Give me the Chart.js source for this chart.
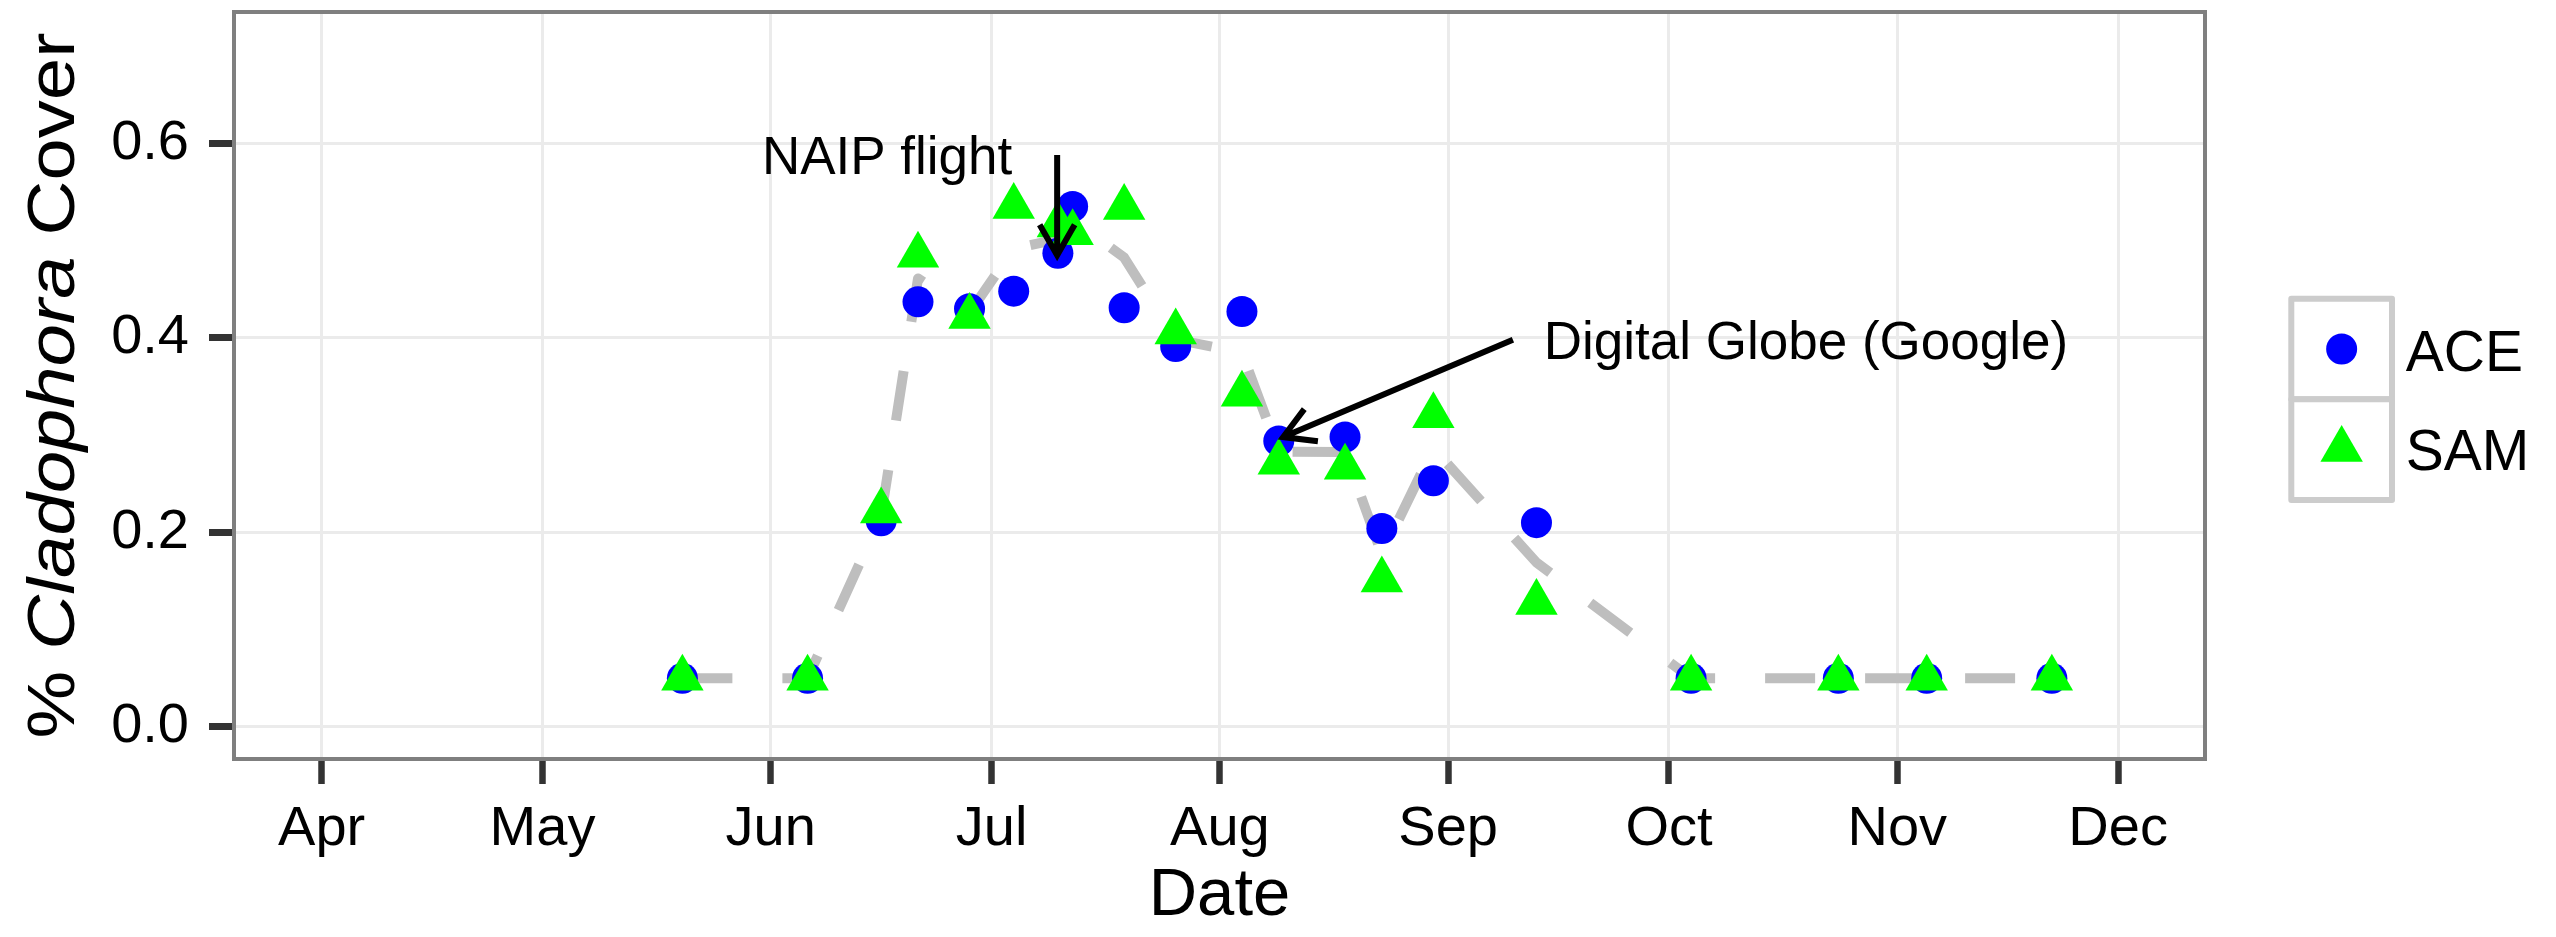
<!DOCTYPE html>
<html>
<head>
<meta charset="utf-8">
<script src="https://cdn.jsdelivr.net/npm/chart.js@4.4.1/dist/chart.umd.min.js"></script>
<style>
  html, body { margin: 0; padding: 0; background: #ffffff; }
  #wrap { width: 2556px; height: 937px; position: relative; }
</style>
</head>
<body>
<div id="wrap"><canvas id="c" width="2556" height="937"></canvas></div>
<script>
// ---------------- data ----------------
const sampleDates = ['2013-05-20','2013-06-06','2013-06-16','2013-06-21','2013-06-28','2013-07-04',
  '2013-07-10','2013-07-12','2013-07-19','2013-07-26','2013-08-04','2013-08-09','2013-08-18',
  '2013-08-23','2013-08-30','2013-09-13','2013-10-04','2013-10-24','2013-11-05','2013-11-22'];
const aceCover  = [0.05, 0.05, 0.212, 0.437, 0.430, 0.448, 0.487, 0.535, 0.431, 0.391, 0.427,
  0.294, 0.298, 0.204, 0.253, 0.210, 0.05, 0.05, 0.05, 0.05];
const samCover  = [0.05, 0.05, 0.222, 0.485, 0.422, 0.535, 0.516, 0.508, 0.534, 0.406, 0.342,
  0.272, 0.267, 0.151, 0.320, 0.128, 0.05, 0.05, 0.05, 0.05];
const meanCover = [0.05, 0.05, 0.217, 0.461, 0.426, 0.4915, 0.5015, 0.5215, 0.4825, 0.3985, 0.3845,
  0.283, 0.2825, 0.1775, 0.2865, 0.169, 0.05, 0.05, 0.05, 0.05];
const seriesNames = ['ACE', 'SAM'];

const monthTickDates  = ['2013-04-01','2013-05-01','2013-06-01','2013-07-01','2013-08-01',
  '2013-09-01','2013-10-01','2013-11-01','2013-12-01'];
const monthTickLabels = ['Apr','May','Jun','Jul','Aug','Sep','Oct','Nov','Dec'];
const yTickValues = [0.0, 0.2, 0.4, 0.6];

const xTitle = 'Date';
const yTitleParts = [['% ', false], ['Cladophora', true], [' Cover', false]];

const annotationLabels = ['NAIP flight', 'Digital Globe (Google)'];
const annotationLabelAt = [[167.8, 0.588], [292.6, 0.3976]];   // [day of year, cover]
const annotationArrowFrom = [[190.9, 0.588], [252.8, 0.398]];
const annotationArrowTo   = [[190.9, 0.485], [221.6, 0.298]];

// ---------------- helpers ----------------
function dayOfYear(s) {
  const [yy, mm, dd] = s.split('-').map(Number);
  return (Date.UTC(yy, mm - 1, dd) - Date.UTC(yy, 0, 0)) / 86400000;
}
const xs = sampleDates.map(dayOfYear);
const monthTickDays = monthTickDates.map(dayOfYear);
const toPts = arr => arr.map((v, i) => ({ x: xs[i], y: v }));

const FONT = 'Liberation Sans, Arial, Helvetica, sans-serif';
const FONTQ = '"Liberation Sans", Arial, Helvetica, sans-serif';
const BLUE = '#0000FF', GREEN = '#00FF00';

// ---------------- plugin ----------------
function arrow(ctx, x0, y0, x1, y1) {
  const ang = Math.atan2(y0 - y1, x0 - x1);
  const L = 35, a = Math.PI / 6;
  ctx.beginPath();
  ctx.moveTo(x0, y0); ctx.lineTo(x1, y1);
  ctx.moveTo(x1 + L * Math.cos(ang + a), y1 + L * Math.sin(ang + a));
  ctx.lineTo(x1, y1);
  ctx.lineTo(x1 + L * Math.cos(ang - a), y1 + L * Math.sin(ang - a));
  ctx.stroke();
}

const deco = {
  id: 'deco',
  afterDatasetsDraw(chart) {
    const { ctx, scales: { x, y } } = chart;
    ctx.save();
    ctx.fillStyle = '#000';
    ctx.font = '53px ' + FONTQ;
    ctx.textAlign = 'center';
    ctx.textBaseline = 'alphabetic';
    annotationLabels.forEach((t, i) => {
      const px = x.getPixelForValue(annotationLabelAt[i][0]);
      const py = y.getPixelForValue(annotationLabelAt[i][1]);
      ctx.fillText(t, px, py + 0.716 * 53 / 2);
    });
    ctx.strokeStyle = '#000';
    ctx.lineWidth = 6;
    ctx.lineCap = 'butt';
    ctx.lineJoin = 'miter';
    annotationArrowFrom.forEach((f, i) => {
      const t = annotationArrowTo[i];
      arrow(ctx, x.getPixelForValue(f[0]), y.getPixelForValue(f[1]),
                 x.getPixelForValue(t[0]), y.getPixelForValue(t[1]));
    });
    ctx.restore();
  },
  afterDraw(chart) {
    const { ctx, chartArea: ca } = chart;
    ctx.save();
    // panel border
    ctx.strokeStyle = '#7F7F7F';
    ctx.lineWidth = 4;
    ctx.strokeRect(ca.left, ca.top, ca.right - ca.left, ca.bottom - ca.top);

    // x title
    ctx.fillStyle = '#000';
    ctx.font = '67px ' + FONTQ;
    ctx.textAlign = 'center';
    ctx.textBaseline = 'alphabetic';
    ctx.fillText(xTitle, (ca.left + ca.right) / 2, 915);

    // y title (mixed italic)
    ctx.save();
    ctx.translate(74, (ca.top + ca.bottom) / 2);
    ctx.rotate(-Math.PI / 2);
    let total = 0;
    const widths = yTitleParts.map(([s, it]) => {
      ctx.font = (it ? 'italic ' : '') + '67px ' + FONTQ;
      const w = ctx.measureText(s).width; total += w; return w;
    });
    ctx.scale(706 / total, 1);
    let cx = -total / 2;
    ctx.textAlign = 'left';
    yTitleParts.forEach(([s, it], i) => {
      ctx.font = (it ? 'italic ' : '') + '67px ' + FONTQ;
      ctx.fillText(s, cx, 0);
      cx += widths[i];
    });
    ctx.restore();

    // legend
    const kx = 2291.3, kw = 100.7, ky = [298.7, 399.3], kh = 100.6;
    ctx.fillStyle = '#FFFFFF';
    ctx.strokeStyle = '#CCCCCC';
    ctx.lineWidth = 6;
    ctx.lineJoin = 'round';
    ky.forEach(t => { ctx.fillRect(kx, t, kw, kh); ctx.strokeRect(kx, t, kw, kh); });
    const mx = kx + kw / 2;
    ctx.fillStyle = BLUE;
    ctx.beginPath(); ctx.arc(mx, ky[0] + kh / 2, 15.5, 0, Math.PI * 2); ctx.fill();
    ctx.fillStyle = GREEN;
    const cyT = ky[1] + kh / 2, R = 24.5;
    ctx.beginPath();
    for (let k = 0; k < 3; k++) {
      const r = k * 2 * Math.PI / 3;
      const px = mx + Math.sin(r) * R, py = cyT - Math.cos(r) * R;
      k === 0 ? ctx.moveTo(px, py) : ctx.lineTo(px, py);
    }
    ctx.closePath(); ctx.fill();
    ctx.fillStyle = '#000';
    ctx.font = '57px ' + FONTQ;
    ctx.textAlign = 'left';
    ctx.fillText(seriesNames[0], 2405.7, 370.7);
    ctx.fillText(seriesNames[1], 2405.7, 470);
    ctx.restore();
  }
};

// ---------------- chart ----------------
new Chart(document.getElementById('c'), {
  type: 'scatter',
  data: {
    datasets: [
      { type: 'scatter', label: seriesNames[1], data: toPts(samCover), order: 1,
        pointStyle: 'triangle', pointRadius: 24.5, pointHoverRadius: 24.5,
        backgroundColor: GREEN, borderColor: GREEN, borderWidth: 0, pointBorderWidth: 0 },
      { type: 'scatter', label: seriesNames[0], data: toPts(aceCover), order: 2,
        pointStyle: 'circle', pointRadius: 15.5, pointHoverRadius: 15.5,
        backgroundColor: BLUE, borderColor: BLUE, borderWidth: 0, pointBorderWidth: 0 },
      { type: 'line', label: 'mean', data: toPts(meanCover), order: 3,
        showLine: true, pointRadius: 0, borderColor: '#BEBEBE', borderWidth: 10,
        borderDash: [50, 50], borderCapStyle: 'butt', borderJoinStyle: 'round',
        tension: 0, fill: false }
    ]
  },
  options: {
    responsive: false,
    maintainAspectRatio: false,
    animation: false,
    devicePixelRatio: 1,
    events: [],
    layout: { autoPadding: false, padding: { top: 12, right: 351, left: 0, bottom: 0 } },
    plugins: { legend: { display: false }, tooltip: { enabled: false } },
    scales: {
      x: {
        type: 'linear', min: 79.1, max: 346.8,
        afterBuildTicks: s => { s.ticks = monthTickDays.map(v => ({ value: v })); },
        afterFit: s => { s.height = 178; s.paddingLeft = 0; s.paddingRight = 0; s.paddingTop = 0; s.paddingBottom = 0; },
        ticks: {
          callback: (v, i) => monthTickLabels[i],
          font: { family: FONT, size: 56 }, color: '#000', padding: 12, maxRotation: 0, autoSkip: false
        },
        grid: { color: '#EBEBEB', lineWidth: 3, tickLength: 25, tickWidth: 6.5, tickColor: '#333333', drawOnChartArea: true },
        border: { display: false }
      },
      y: {
        type: 'linear', min: -0.033, max: 0.735,
        afterBuildTicks: s => { s.ticks = yTickValues.map(v => ({ value: v })); },
        afterFit: s => { s.width = 234; s.paddingTop = 0; s.paddingBottom = 0; s.paddingLeft = 0; s.paddingRight = 0; },
        ticks: {
          callback: v => Number(v).toFixed(1),
          font: { family: FONT, size: 56 }, color: '#000', padding: 20, autoSkip: false
        },
        grid: { color: '#EBEBEB', lineWidth: 3, tickLength: 25, tickWidth: 7, tickColor: '#333333' },
        border: { display: false }
      }
    }
  },
  plugins: [deco]
});
</script>
</body>
</html>
